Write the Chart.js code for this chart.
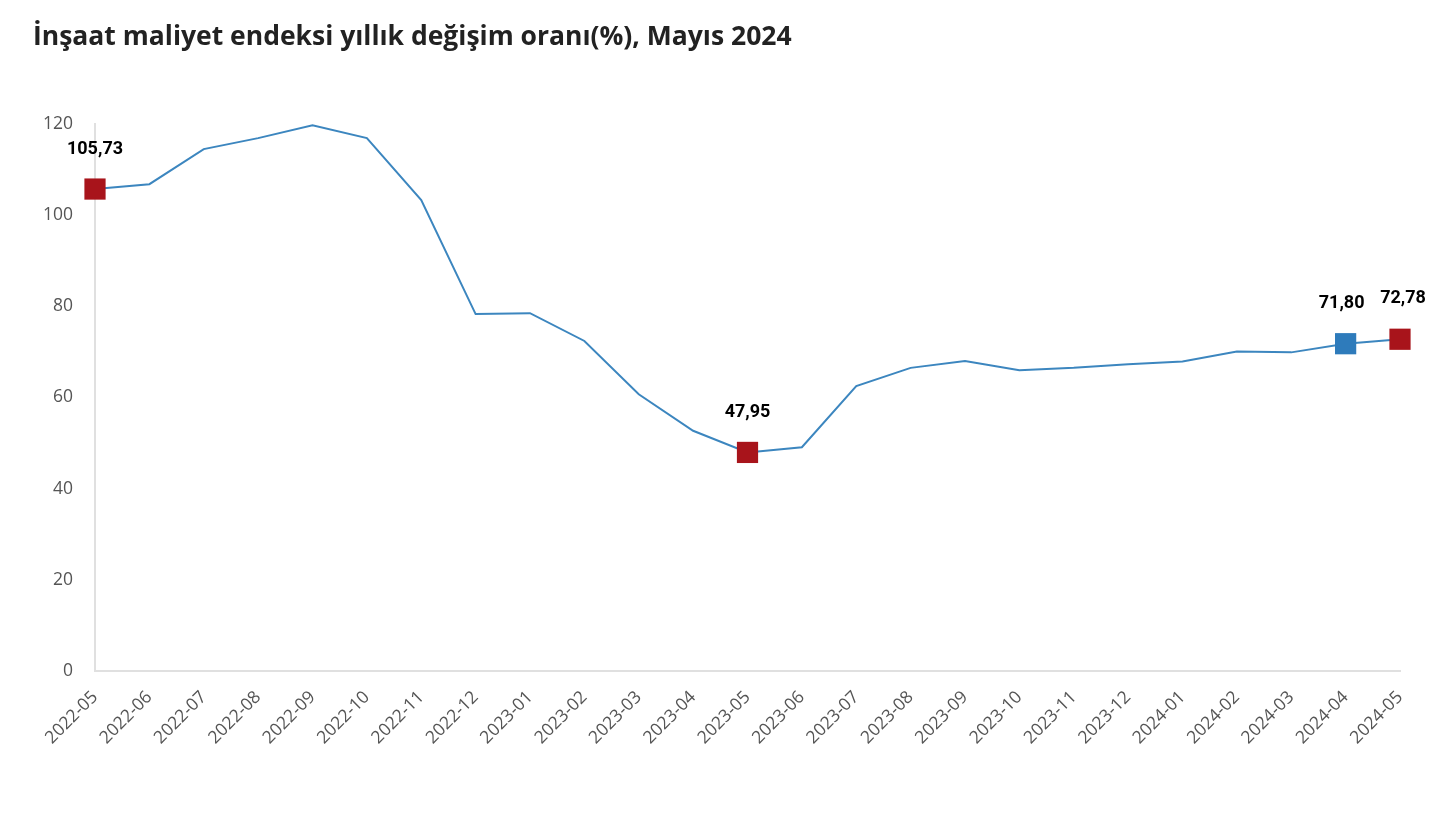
<!DOCTYPE html>
<html>
<head>
<meta charset="utf-8">
<script src="https://cdn.jsdelivr.net/npm/chart.js@4"></script>
<style>
  body { margin: 0; background: #fff; }
  #wrap { position: relative; width: 1450px; height: 815px; }
  #title { position: absolute; left: 33px; top: 17px; font: bold 26.5px "Open Sans", sans-serif; color: #222; }
  canvas { position: absolute; left: 0; top: 0; }
</style>
</head>
<body>
<div id="wrap">
  <canvas id="chart" width="1450" height="815"></canvas>
  <div id="title">İnşaat maliyet endeksi yıllık değişim oranı(%), Mayıs 2024</div>
</div>
<script>
// aylar
const months = ['2022-05','2022-06','2022-07','2022-08','2022-09','2022-10','2022-11','2022-12',
  '2023-01','2023-02','2023-03','2023-04','2023-05','2023-06','2023-07','2023-08','2023-09',
  '2023-10','2023-11','2023-12','2024-01','2024-02','2024-03','2024-04','2024-05'];

// yıllık değişim (%)
const values = [105.73, 106.8, 114.5, 116.9, 119.7, 116.9, 103.3, 78.3,
  78.5, 72.4, 60.7, 52.7, 47.95, 49.1, 62.5, 66.5, 68.0,
  66.0, 66.5, 67.3, 67.9, 70.1, 69.9, 71.80, 72.78];

const redPoints = [0, 12, 24];
const bluePoints = [23];

const yTicks = [0, 20, 40, 60, 80, 100, 120];

const pointColors = values.map((v, i) => redPoints.includes(i) ? '#a8141b' : (bluePoints.includes(i) ? '#2e7bbb' : 'transparent'));
const pointSizes = values.map((v, i) => (redPoints.includes(i) || bluePoints.includes(i)) ? 15 : 0);

const valueLabels = {
  id: 'valueLabels',
  afterDatasetsDraw(chart) {
    const ctx = chart.ctx;
    const meta = chart.getDatasetMeta(0);
    ctx.save();
    ctx.font = 'bold 18px Roboto, sans-serif';
    ctx.fillStyle = '#000';
    ctx.textAlign = 'center';
    ctx.textBaseline = 'middle';
    redPoints.concat(bluePoints).forEach(i => {
      const p = meta.data[i];
      let dx = 0;
      if (i === 23) dx = -4;
      if (i === 24) dx = 3;
      let dy = i === 24 ? -41 : -40;
      const txt = values[i].toFixed(2).replace('.', ',');
      ctx.fillText(txt, p.x + dx, p.y + dy);
    });
    ctx.restore();
  }
};

new Chart(document.getElementById('chart'), {
  type: 'line',
  data: {
    labels: months,
    datasets: [{
      data: values,
      borderColor: '#3c86bf',
      borderWidth: 2,
      tension: 0,
      pointStyle: 'rect',
      pointRadius: pointSizes,
      pointHoverRadius: pointSizes,
      pointBackgroundColor: pointColors,
      pointBorderColor: pointColors,
      pointBorderWidth: 0
    }]
  },
  options: {
    responsive: false,
    animation: false,
    layout: { padding: { top: 124, right: 50, left: 0, bottom: 0 } },
    plugins: { legend: { display: false }, tooltip: { enabled: false } },
    scales: {
      x: {
        offset: false,
        grid: { display: false, drawTicks: false },
        border: { color: '#e0e0e0', width: 2 },
        ticks: {
          color: '#555',
          font: { family: '"Open Sans", sans-serif', size: 17.5 },
          maxRotation: 45,
          minRotation: 45,
          padding: 16,
          autoSkip: false
        },
        afterFit(s) { s.height = 144; }
      },
      y: {
        min: 0,
        max: 120,
        grid: { display: false, drawTicks: false },
        border: { color: '#e0e0e0', width: 2 },
        afterBuildTicks(s) { s.ticks = yTicks.map(v => ({ value: v })); },
        ticks: {
          color: '#555',
          font: { family: '"Open Sans", sans-serif', size: 17.5 },
          padding: 22
        },
        afterFit(s) { s.width = 95; }
      }
    }
  },
  plugins: [valueLabels]
});
</script>
</body>
</html>
